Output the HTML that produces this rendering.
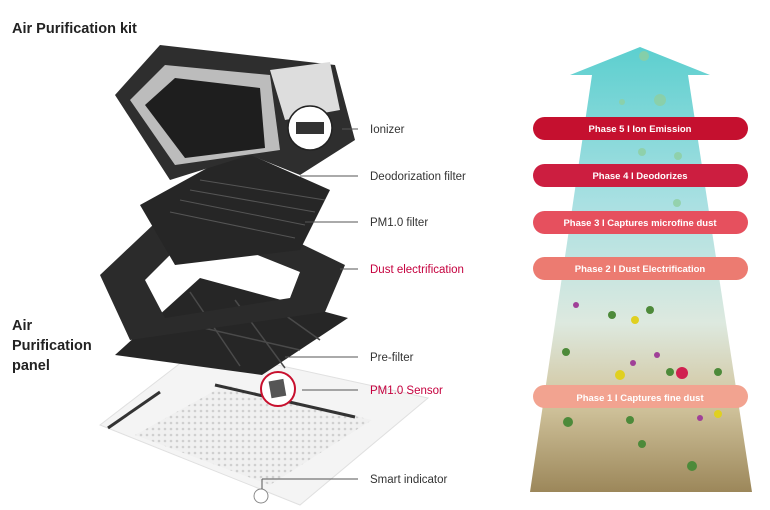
<!DOCTYPE html>
<html><head><meta charset="utf-8"><style>
body{margin:0;background:#fff;width:770px;height:510px;overflow:hidden;font-family:"Liberation Sans",sans-serif}
svg{display:block}
</style></head><body>
<svg width="770" height="510" viewBox="0 0 770 510" xmlns="http://www.w3.org/2000/svg">
<defs>
<linearGradient id="ag" x1="0" y1="0" x2="0" y2="1">
<stop offset="0" stop-color="#5ccfcf"/>
<stop offset="0.35" stop-color="#a9e0e2"/>
<stop offset="0.62" stop-color="#dde9df"/>
<stop offset="0.8" stop-color="#d2c59e"/>
<stop offset="1" stop-color="#9c875a"/>
</linearGradient>
<pattern id="grid" width="6" height="6" patternUnits="userSpaceOnUse"><rect width="6" height="6" fill="#f0f0f0"/><circle cx="3" cy="3" r="1.3" fill="#cfcfcf"/></pattern>
</defs>
<text x="12" y="33" font-size="14.5" font-weight="bold" fill="#222">Air Purification kit</text>
<text x="12" y="330" font-size="14.5" font-weight="bold" fill="#222">Air</text>
<text x="12" y="350" font-size="14.5" font-weight="bold" fill="#222">Purification</text>
<text x="12" y="370" font-size="14.5" font-weight="bold" fill="#222">panel</text>

<!-- white panel -->
<polygon points="100,425 200,348 428,398 300,505" fill="#f4f4f4" stroke="#e0e0e0"/>
<polygon points="135,435 225,385 372,420 270,485" fill="url(#grid)"/>
<line x1="108" y1="428" x2="160" y2="392" stroke="#333" stroke-width="3"/>
<line x1="215" y1="385" x2="355" y2="417" stroke="#333" stroke-width="3"/>
<!-- pre-filter -->
<polygon points="115,355 200,278 348,318 262,375" fill="#262626"/>
<g stroke="#4a4a4a" stroke-width="1.5" fill="none">
<line x1="160" y1="318" x2="300" y2="350"/><line x1="190" y1="292" x2="240" y2="366"/><line x1="235" y1="300" x2="285" y2="368"/><line x1="275" y1="308" x2="320" y2="340"/></g>
<!-- frame (hollow) -->
<path d="M100,275 L190,190 L345,265 L325,312 L130,340 Z M145,280 L195,230 L300,272 L290,298 L165,318 Z" fill="#2b2b2b" fill-rule="evenodd"/>
<!-- deodorization filter -->
<polygon points="140,205 240,150 330,190 300,250 175,265" fill="#262626"/>
<g stroke="#555" stroke-width="1"><line x1="200" y1="180" x2="325" y2="200"/><line x1="190" y1="190" x2="315" y2="212"/><line x1="180" y1="200" x2="305" y2="225"/><line x1="170" y1="212" x2="295" y2="238"/></g>
<!-- top unit -->
<polygon points="115,95 160,45 335,65 355,140 300,175 250,155 170,180" fill="#2e2e2e"/>
<polygon points="130,100 165,65 270,75 280,150 175,165" fill="#bcbcbc"/>
<polygon points="145,105 175,78 260,88 265,148 185,158" fill="#1e1e1e"/>
<polygon points="270,70 330,62 340,110 285,120" fill="#ddd"/>
<!-- ionizer circle -->
<circle cx="310" cy="128" r="22" fill="#fff" stroke="#222" stroke-width="1.5"/>
<rect x="296" y="122" width="28" height="12" fill="#333"/>
<!-- sensor circle -->
<circle cx="278" cy="389" r="17" fill="#fff" stroke="#c8102e" stroke-width="2"/>
<rect x="270" y="380" width="15" height="17" fill="#555" transform="rotate(-10 278 389)"/>
<circle cx="261" cy="496" r="7" fill="#fff" stroke="#888"/>

<!-- leader lines -->
<g stroke="#555" stroke-width="1">
<line x1="342" y1="129" x2="358" y2="129"/>
<line x1="300" y1="176" x2="358" y2="176"/>
<line x1="305" y1="222" x2="358" y2="222"/>
<line x1="340" y1="269" x2="358" y2="269"/>
<line x1="285" y1="357" x2="358" y2="357"/>
<line x1="302" y1="390" x2="358" y2="390"/>
<line x1="262" y1="479" x2="358" y2="479"/>
<line x1="262" y1="479" x2="262" y2="489"/>
</g>
<g font-size="11.5" fill="#333">
<text x="370" y="133">Ionizer</text>
<text x="370" y="180">Deodorization filter</text>
<text x="370" y="226">PM1.0 filter</text>
<text x="370" y="273" fill="#c5003e">Dust electrification</text>
<text x="370" y="361">Pre-filter</text>
<text x="370" y="394" fill="#c5003e">PM1.0 Sensor</text>
<text x="370" y="483">Smart indicator</text>
</g>

<!-- arrow -->
<polygon points="640,47 710,75 688,75 752,492 530,492 592,75 570,75" fill="url(#ag)"/>
<g fill="#4d8a3a">
<circle cx="566" cy="352" r="4"/><circle cx="612" cy="315" r="4"/><circle cx="650" cy="310" r="4"/><circle cx="670" cy="372" r="4"/><circle cx="718" cy="372" r="4"/><circle cx="568" cy="422" r="5"/><circle cx="630" cy="420" r="4"/><circle cx="692" cy="466" r="5"/><circle cx="642" cy="444" r="4"/>
</g>
<g fill="#a04098"><circle cx="576" cy="305" r="3"/><circle cx="657" cy="355" r="3"/><circle cx="700" cy="418" r="3"/><circle cx="633" cy="363" r="3"/></g>
<circle cx="682" cy="373" r="6" fill="#d02050"/>
<circle cx="635" cy="320" r="4" fill="#e0d020"/><circle cx="620" cy="375" r="5" fill="#e0d020"/><circle cx="718" cy="414" r="4" fill="#e0d020"/>
<g fill="#8fcfa0" opacity="0.8"><circle cx="644" cy="56" r="5"/><circle cx="660" cy="100" r="6"/><circle cx="622" cy="102" r="3"/><circle cx="642" cy="152" r="4"/><circle cx="678" cy="156" r="4"/><circle cx="677" cy="203" r="4"/></g>

<g font-size="9.5" fill="#fff" text-anchor="middle" font-weight="600">
<rect x="533" y="117" width="215" height="23" rx="11.5" fill="#c5102f"/><text x="640" y="132">Phase 5  I  Ion Emission</text>
<rect x="533" y="164" width="215" height="23" rx="11.5" fill="#cc1e40"/><text x="640" y="179">Phase 4  I  Deodorizes</text>
<rect x="533" y="211" width="215" height="23" rx="11.5" fill="#e6505e"/><text x="640" y="226">Phase 3  I  Captures microfine dust</text>
<rect x="533" y="257" width="215" height="23" rx="11.5" fill="#ec7b71"/><text x="640" y="272">Phase 2  I  Dust Electrification</text>
<rect x="533" y="385" width="215" height="23" rx="11.5" fill="#f2a390"/><text x="640" y="401">Phase 1  I  Captures fine dust</text>
</g>
</svg>
</body></html>
